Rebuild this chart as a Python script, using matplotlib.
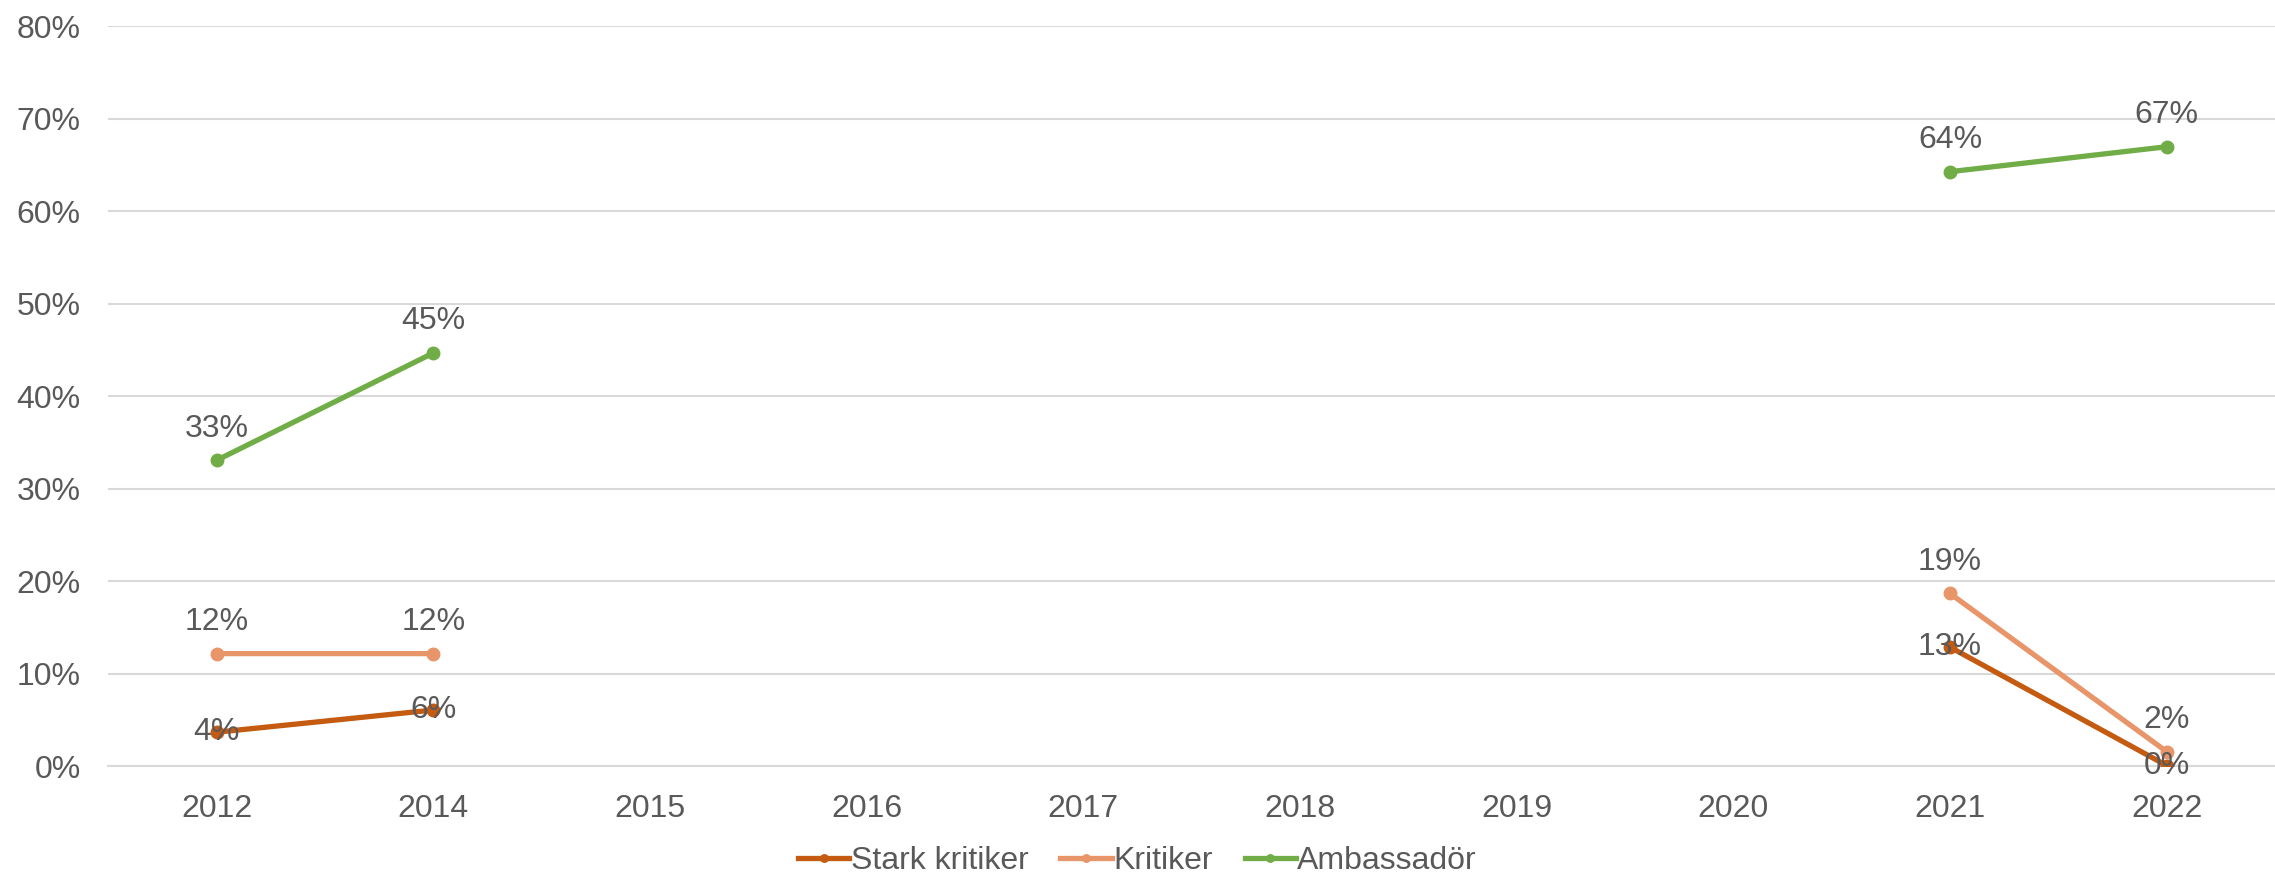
import numpy as np
import matplotlib.pyplot as plt

plt.rcParams['font.family'] = ['Liberation Sans', 'DejaVu Sans']

years = ['2012', '2014', '2015', '2016', '2017', '2018', '2019', '2020', '2021', '2022']
stark_kritiker = [0.037, 0.061, np.nan, np.nan, np.nan, np.nan, np.nan, np.nan, 0.129, 0.001]
kritiker = [0.122, 0.122, np.nan, np.nan, np.nan, np.nan, np.nan, np.nan, 0.187, 0.016]
ambassador = [0.331, 0.447, np.nan, np.nan, np.nan, np.nan, np.nan, np.nan, 0.643, 0.670]

series = [
    ('Stark kritiker', stark_kritiker, '#C55A11', 'center'),
    ('Kritiker', kritiker, '#E8956A', 'above'),
    ('Ambassadör', ambassador, '#70AD47', 'above'),
]

txt = '#595959'
fs = 23
fig = plt.figure(figsize=(22.75, 8.83), dpi=100)
ax = fig.add_axes([0.0476, 0.132, 0.9524, 0.838])
x = np.arange(len(years))

for name, vals, col, pos in series:
    ax.plot(x, vals, color=col, lw=3.8, marker='o', ms=9, label=name, zorder=3)
    for xi, v in zip(x, vals):
        if np.isnan(v):
            continue
        if pos == 'center':
            ax.text(xi, v, f'{v*100:.0f}%', ha='center', va='center', fontsize=fs, color=txt, zorder=4)
        else:
            ax.annotate(f'{v*100:.0f}%', (xi, v), xytext=(0, 12), textcoords='offset points',
                        ha='center', va='bottom', fontsize=fs, color=txt, zorder=4)

ax.set_xlim(-0.5, len(years) - 0.5)
ax.set_ylim(0, 0.8)
ax.set_yticks(np.arange(0, 0.81, 0.1))
ax.set_yticklabels([f'{int(round(t*100))}%' for t in np.arange(0, 0.81, 0.1)])
ax.set_xticks(x)
ax.set_xticklabels(years)
ax.tick_params(axis='both', length=0, labelsize=fs, labelcolor=txt)
ax.tick_params(axis='x', pad=20)
ax.tick_params(axis='y', pad=20)
ax.grid(axis='y', color='#D9D9D9', lw=1.5)
ax.set_axisbelow(True)
for s in ax.spines.values():
    s.set_visible(False)
ax.spines['bottom'].set_visible(True)
ax.spines['bottom'].set_color('#D9D9D9')
ax.spines['bottom'].set_linewidth(1.5)

leg = fig.legend(loc='lower center', bbox_to_anchor=(0.5, -0.025), ncol=3, frameon=False,
                 fontsize=fs, handlelength=1.6, handletextpad=0.05, columnspacing=1.0, markerscale=0.6)
for t in leg.get_texts():
    t.set_color(txt)

fig.savefig('out.png', dpi=100)
